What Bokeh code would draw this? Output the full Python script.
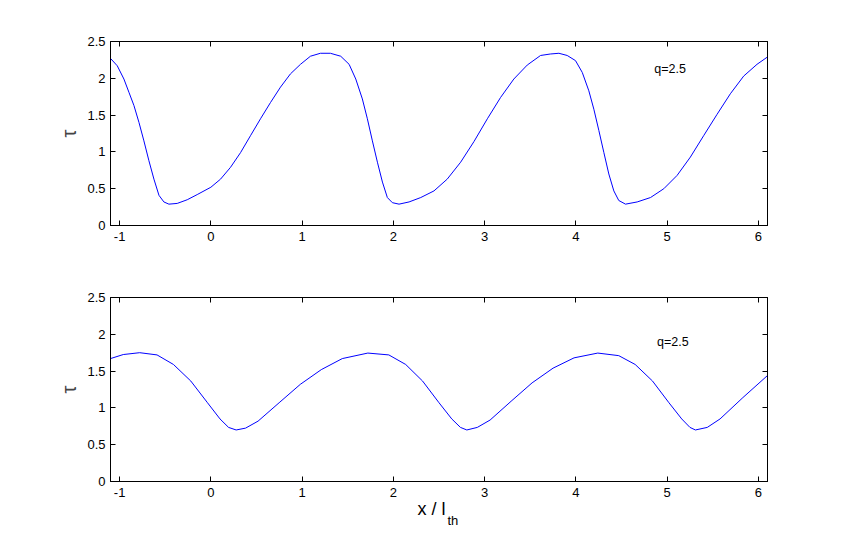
from bokeh.plotting import figure
from bokeh.layouts import column
from bokeh.models import Range1d, FixedTicker, LinearAxis, Label, Title, CustomJSTickFormatter
from bokeh.embed import file_html
from bokeh.resources import INLINE

# ---- data ----
x_top = [-1.10, -1.026, -0.953, -0.898, -0.843, -0.788, -0.734, -0.679, -0.624, -0.569, -0.515, -0.46,
         -0.369, -0.259, -0.150, 0.0, 0.106, 0.215, 0.325, 0.434, 0.544, 0.653, 0.763, 0.872, 0.982,
         1.091, 1.20, 1.31, 1.423, 1.515, 1.588, 1.66, 1.715, 1.77, 1.825, 1.88, 1.934, 1.989, 2.062,
         2.172, 2.30, 2.445, 2.59, 2.737, 2.883, 3.03, 3.175, 3.32, 3.467, 3.613, 3.72, 3.814, 3.905,
         3.996, 4.07, 4.142, 4.197, 4.252, 4.307, 4.361, 4.416, 4.47, 4.544, 4.672, 4.818, 4.964, 5.109,
         5.255, 5.40, 5.547, 5.693, 5.839, 5.985, 6.10]
tau_top = [2.27, 2.17, 1.99, 1.81, 1.63, 1.40, 1.15, 0.88, 0.63, 0.41, 0.32, 0.29,
           0.30, 0.35, 0.42, 0.52, 0.63, 0.79, 0.99, 1.22, 1.45, 1.67, 1.88, 2.06, 2.19,
           2.30, 2.34, 2.34, 2.30, 2.19, 1.99, 1.72, 1.45, 1.15, 0.86, 0.59, 0.38, 0.31, 0.29,
           0.32, 0.38, 0.47, 0.63, 0.86, 1.14, 1.45, 1.74, 1.99, 2.18, 2.31, 2.33, 2.34, 2.31,
           2.24, 2.08, 1.83, 1.58, 1.29, 0.99, 0.70, 0.47, 0.34, 0.29, 0.32, 0.38, 0.50, 0.68,
           0.93, 1.22, 1.51, 1.79, 2.03, 2.19, 2.29]

x_bot = [-1.10, -0.96, -0.78, -0.59, -0.41, -0.22, -0.037, 0.10, 0.194, 0.277, 0.38, 0.517, 0.748,
         0.98, 1.21, 1.44, 1.72, 1.95, 2.135, 2.32, 2.50, 2.64, 2.735, 2.805, 2.92, 3.06, 3.29, 3.52,
         3.75, 3.98, 4.24, 4.47, 4.65, 4.84, 5.02, 5.16, 5.25, 5.31, 5.44, 5.58, 5.83, 6.10]
tau_bot = [1.67, 1.725, 1.75, 1.72, 1.59, 1.365, 1.07, 0.85, 0.735, 0.70, 0.725, 0.82, 1.07,
           1.32, 1.52, 1.67, 1.745, 1.72, 1.59, 1.365, 1.07, 0.85, 0.735, 0.70, 0.735, 0.835, 1.09, 1.34,
           1.54, 1.68, 1.745, 1.71, 1.59, 1.365, 1.07, 0.85, 0.735, 0.70, 0.735, 0.85, 1.14, 1.44]

x_ticks = [-1, 0, 1, 2, 3, 4, 5, 6]
x_tick_labels = ["-1", "0", "1", "2", "3", "4", "5", "6"]
y_ticks = [0, 0.5, 1, 1.5, 2, 2.5]
y_tick_labels = ["0", "0.5", "1", "1.5", "2", "2.5"]

annotation_text = "q=2.5"
y_label = "τ"
x_label_main = "x / l"
x_label_sub = "th"

FONT = "Liberation Sans"


def style(p):
    p.outline_line_color = "black"
    p.outline_line_width = 1
    p.grid.visible = False
    p.xaxis.ticker = FixedTicker(ticks=x_ticks)
    p.yaxis.ticker = FixedTicker(ticks=y_ticks)
    p.xaxis.major_label_overrides = dict(zip(x_ticks, x_tick_labels))
    p.yaxis.major_label_overrides = dict(zip(y_ticks, y_tick_labels))
    for ax in p.xaxis + p.yaxis:
        ax.major_tick_in = 5
        ax.major_tick_out = 0
        ax.minor_tick_line_color = None
        ax.axis_line_color = "black"
        ax.major_tick_line_color = "black"
        ax.major_label_text_font = FONT
        ax.major_label_text_font_size = "13px"
        ax.major_label_text_color = "black"
    p.xaxis.major_label_standoff = 6
    p.yaxis.major_label_standoff = 5
    blank = CustomJSTickFormatter(code="return ''")
    top = LinearAxis(ticker=FixedTicker(ticks=x_ticks), formatter=blank,
                     major_tick_in=5, major_tick_out=0, minor_tick_line_color=None,
                     axis_line_color="black", major_label_text_font_size="1px")
    right = LinearAxis(ticker=FixedTicker(ticks=y_ticks), formatter=blank,
                       major_tick_in=5, major_tick_out=0, minor_tick_line_color=None,
                       axis_line_color="black", major_label_text_font_size="1px")
    p.add_layout(top, "above")
    p.add_layout(right, "right")
    p.yaxis[0].axis_label = y_label
    p.yaxis[0].axis_label_text_font = FONT
    p.yaxis[0].axis_label_text_font_size = "20px"
    p.yaxis[0].axis_label_text_font_style = "normal"
    p.yaxis[0].axis_label_standoff = 4


W = 808
p1 = figure(width=W, height=260, x_range=Range1d(-1.1, 6.1), y_range=Range1d(0, 2.5),
            output_backend="svg", toolbar_location=None,
            min_border_left=110, min_border_right=41, min_border_top=41, min_border_bottom=35)
p1.line(x_top, tau_top, line_color="#0000ff", line_width=1)
style(p1)
p1.add_layout(Label(x=4.86, y=2.12, text=annotation_text, text_font=FONT,
                    text_font_size="12.5px", text_color="black", text_baseline="alphabetic"))

p2 = figure(width=W, height=273, x_range=Range1d(-1.1, 6.1), y_range=Range1d(0, 2.5),
            output_backend="svg", toolbar_location=None,
            min_border_left=110, min_border_right=41, min_border_top=37, min_border_bottom=52)
p2.line(x_bot, tau_bot, line_color="#0000ff", line_width=1)
style(p2)
p2.add_layout(Label(x=4.89, y=1.89, text=annotation_text, text_font=FONT,
                    text_font_size="12.5px", text_color="black", text_baseline="alphabetic"))
p2.add_layout(Title(text=x_label_main, align="left", offset=307, standoff=-5,
                    text_font=FONT, text_font_size="18px", text_font_style="normal",
                    text_color="black"), "below")
p2.add_layout(Title(text=x_label_sub, align="left", offset=337, standoff=-11,
                    text_font=FONT, text_font_size="13px", text_font_style="normal",
                    text_color="black"), "below")

layout = column(p1, p2, spacing=0)
open("out.html", "w").write(file_html(layout, INLINE))
